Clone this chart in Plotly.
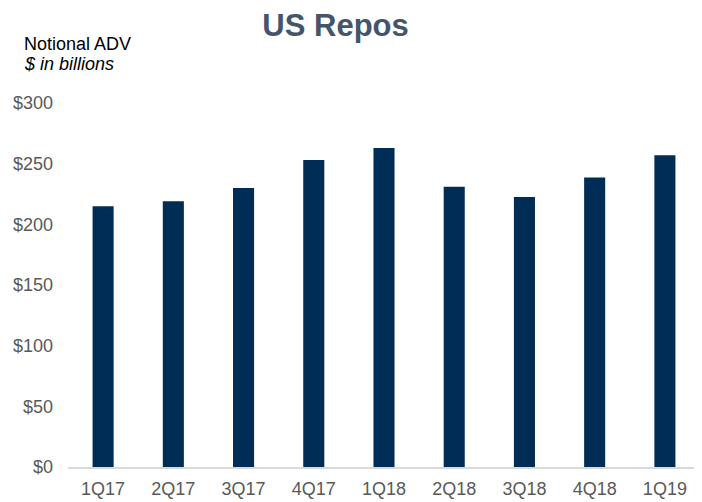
import plotly.graph_objects as go

categories = ["1Q17", "2Q17", "3Q17", "4Q17", "1Q18", "2Q18", "3Q18", "4Q18", "1Q19"]
adv_values = [215, 219, 230, 253, 263, 231, 222.5, 238.5, 257]
y_ticks = [0, 50, 100, 150, 200, 250, 300]
y_tick_labels = ["$0", "$50", "$100", "$150", "$200", "$250", "$300"]

fig = go.Figure()
fig.add_trace(go.Bar(x=categories, y=adv_values, marker_color="#002D56",
                     marker_line_width=0))

fig.update_layout(
    width=694, height=494,
    margin=dict(l=60, r=2, t=95, b=35),
    plot_bgcolor="white", paper_bgcolor="white",
    bargap=0.7,
    showlegend=False,
    font=dict(family="Liberation Sans, Arial, sans-serif", size=18, color="#595959"),
    title=dict(text="<b>US Repos</b>", x=0.472, xanchor="center", y=0.9656, yanchor="middle",
               font=dict(size=31, color="#44546A")),
    xaxis=dict(showline=True, linecolor="#D9D9D9", linewidth=1.5, ticks="",
               tickfont=dict(size=18, color="#595959"), ticklabelstandoff=5),
    yaxis=dict(range=[0, 300], tickvals=y_ticks, ticktext=y_tick_labels,
               showgrid=False, zeroline=False, showline=False, ticks="",
               tickfont=dict(size=18, color="#595959"), ticklabelstandoff=14),
)
fig.add_annotation(text="Notional ADV", xref="paper", yref="paper", x=-0.0728, y=1.162,
                   xanchor="left", yanchor="middle", showarrow=False,
                   font=dict(size=18, color="#000000"))
fig.add_annotation(text="<i>$ in billions</i>", xref="paper", yref="paper", x=-0.0728, y=1.107,
                   xanchor="left", yanchor="middle", showarrow=False,
                   font=dict(size=18, color="#000000"))

fig.write_html("out.html")
